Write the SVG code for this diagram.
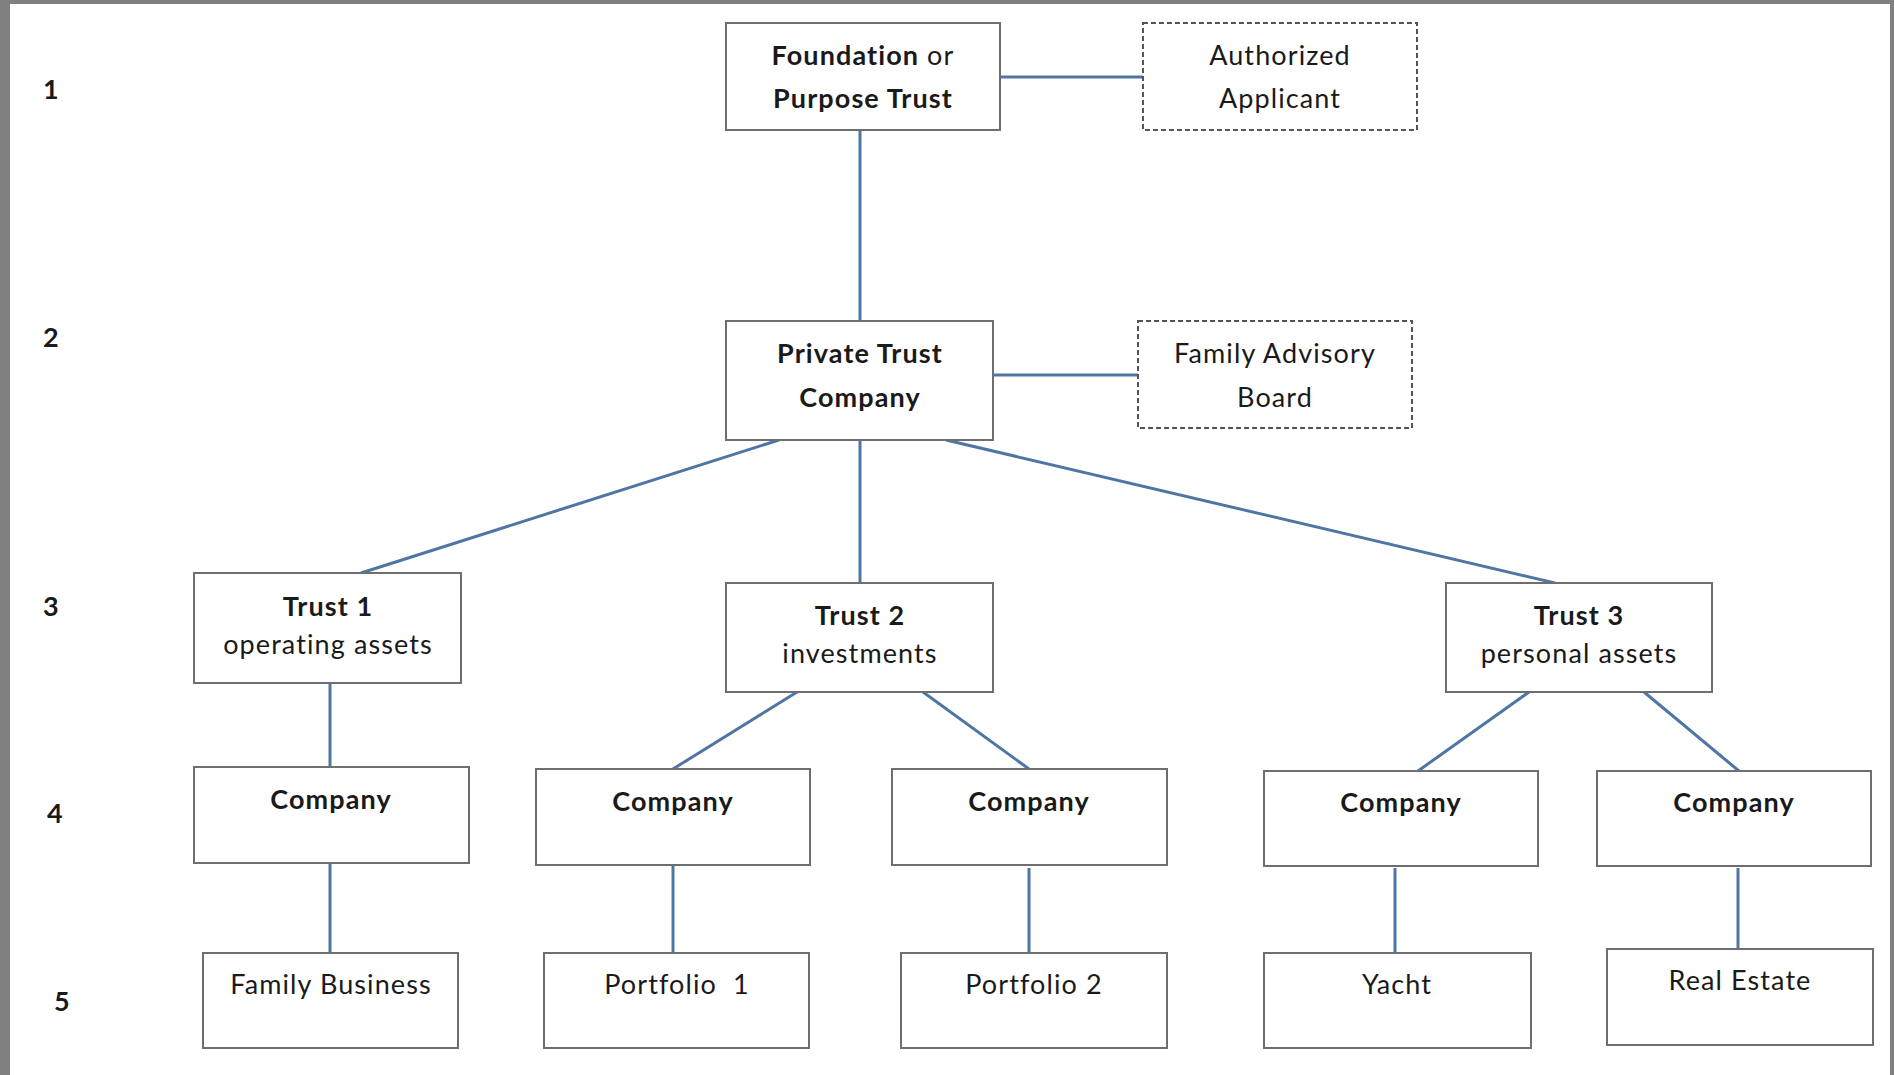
<svg xmlns="http://www.w3.org/2000/svg" width="1894" height="1075" viewBox="0 0 1894 1075">
<style>
.bg{fill:#ffffff}
.frame{fill:#808080}
.box{fill:#ffffff;stroke:#6e6e6e;stroke-width:2}
.dash{fill:#ffffff;stroke:#555555;stroke-width:2;stroke-dasharray:5 3}
.conn{stroke:#4f76a3;stroke-width:3;fill:none}
text{font-family:Lato,"Liberation Sans",sans-serif;font-size:27px;letter-spacing:1.1px;fill:#1a1a1a;text-anchor:middle}
.b{font-weight:bold}
.num{font-weight:bold;font-size:27px;letter-spacing:0;text-anchor:start}
</style>
<rect class="frame" x="0" y="0" width="1894" height="1075"/>
<rect class="bg" x="10" y="4" width="1880" height="1071"/>

<g id="levels">
<text class="num" x="43" y="99">1</text>
<text class="num" x="43" y="347">2</text>
<text class="num" x="43" y="616">3</text>
<text class="num" x="47" y="823">4</text>
<text class="num" x="54" y="1011">5</text>
</g>

<g id="connectors">
<line class="conn" x1="1000" y1="77" x2="1143" y2="77"/>
<line class="conn" x1="860" y1="130" x2="860" y2="321"/>
<line class="conn" x1="993" y1="375" x2="1138" y2="375"/>
<line class="conn" x1="779" y1="440" x2="361" y2="573"/>
<line class="conn" x1="860" y1="440" x2="860" y2="583"/>
<line class="conn" x1="946" y1="440" x2="1555" y2="583"/>
<line class="conn" x1="330" y1="683" x2="330" y2="767"/>
<line class="conn" x1="797" y1="692" x2="673" y2="769"/>
<line class="conn" x1="923" y1="692" x2="1029" y2="769"/>
<line class="conn" x1="1529" y1="692" x2="1418" y2="771"/>
<line class="conn" x1="1644" y1="692" x2="1739" y2="771"/>
<line class="conn" x1="330" y1="863" x2="330" y2="953"/>
<line class="conn" x1="673" y1="865" x2="673" y2="953"/>
<line class="conn" x1="1029" y1="868" x2="1029" y2="953"/>
<line class="conn" x1="1395" y1="868" x2="1395" y2="953"/>
<line class="conn" x1="1738" y1="868" x2="1738" y2="949"/>
</g>

<g id="foundation">
<rect class="box" x="726" y="23" width="274" height="107"/>
<text x="863" y="65"><tspan class="b">Foundation</tspan> or</text>
<text class="b" x="863" y="108">Purpose Trust</text>
</g>
<g id="authorized-applicant">
<rect class="dash" x="1143" y="23" width="274" height="107"/>
<text x="1280" y="65">Authorized</text>
<text x="1280" y="108">Applicant</text>
</g>
<g id="private-trust-company">
<rect class="box" x="726" y="321" width="267" height="119"/>
<text class="b" x="860" y="363">Private Trust</text>
<text class="b" x="860" y="407">Company</text>
</g>
<g id="family-advisory-board">
<rect class="dash" x="1138" y="321" width="274" height="107"/>
<text x="1275" y="363">Family Advisory</text>
<text x="1275" y="407">Board</text>
</g>

<g id="trust1">
<rect class="box" x="194" y="573" width="267" height="110"/>
<text class="b" x="328" y="616">Trust 1</text>
<text x="328" y="654">operating assets</text>
</g>
<g id="trust2">
<rect class="box" x="726" y="583" width="267" height="109"/>
<text class="b" x="860" y="625">Trust 2</text>
<text x="860" y="663">investments</text>
</g>
<g id="trust3">
<rect class="box" x="1446" y="583" width="266" height="109"/>
<text class="b" x="1579" y="625">Trust 3</text>
<text x="1579" y="663">personal assets</text>
</g>

<g id="company1">
<rect class="box" x="194" y="767" width="275" height="96"/>
<text class="b" x="331" y="809">Company</text>
</g>
<g id="company2">
<rect class="box" x="536" y="769" width="274" height="96"/>
<text class="b" x="673" y="811">Company</text>
</g>
<g id="company3">
<rect class="box" x="892" y="769" width="275" height="96"/>
<text class="b" x="1029" y="811">Company</text>
</g>
<g id="company4">
<rect class="box" x="1264" y="771" width="274" height="95"/>
<text class="b" x="1401" y="812">Company</text>
</g>
<g id="company5">
<rect class="box" x="1597" y="771" width="274" height="95"/>
<text class="b" x="1734" y="812">Company</text>
</g>

<g id="family-business">
<rect class="box" x="203" y="953" width="255" height="95"/>
<text x="331" y="994">Family Business</text>
</g>
<g id="portfolio1">
<rect class="box" x="544" y="953" width="265" height="95"/>
<text x="677" y="994" xml:space="preserve">Portfolio  1</text>
</g>
<g id="portfolio2">
<rect class="box" x="901" y="953" width="266" height="95"/>
<text x="1034" y="994">Portfolio 2</text>
</g>
<g id="yacht">
<rect class="box" x="1264" y="953" width="267" height="95"/>
<text x="1397" y="994">Yacht</text>
</g>
<g id="real-estate">
<rect class="box" x="1607" y="949" width="266" height="96"/>
<text x="1740" y="990">Real Estate</text>
</g>
</svg>
